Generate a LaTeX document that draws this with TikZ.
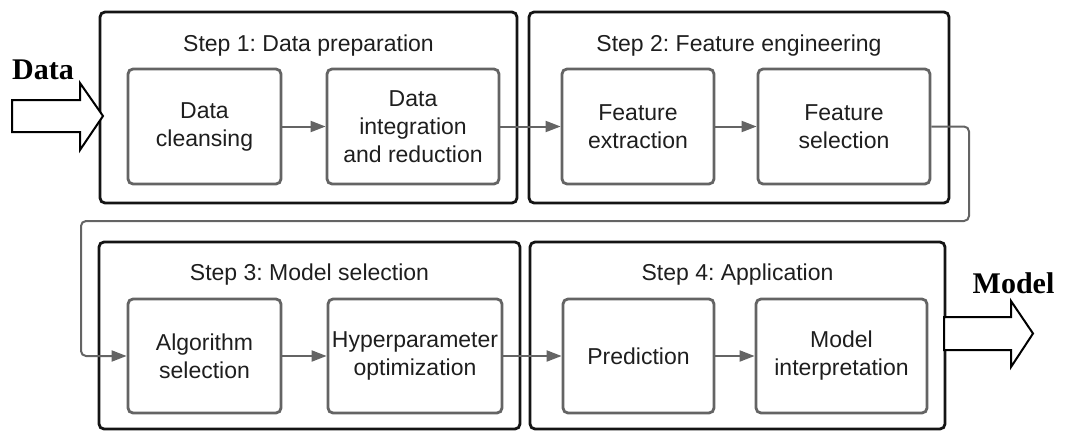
\documentclass[tikz,border=0pt]{standalone}
\usepackage{fontspec}
\setmainfont{Liberation Sans}
\newfontfamily\labelserif{Liberation Serif}
\usetikzlibrary{arrows.meta}
\frenchspacing

\definecolor{stageline}{RGB}{20,20,20}
\definecolor{taskline}{RGB}{100,100,100}
\definecolor{flowline}{RGB}{100,100,100}
\definecolor{ink}{RGB}{30,30,30}

\begin{document}
\begin{tikzpicture}[x=1pt,y=-1pt,
  stage/.style={draw=stageline, line width=2.8pt, rounded corners=5pt, inner sep=0pt},
  stagetitle/.style={anchor=base, font=\fontsize{23}{28}\selectfont, text=ink, inner sep=0pt},
  task/.style={draw=taskline, line width=2.8pt, rounded corners=5pt, inner sep=0pt,
    minimum height=115pt, align=center, font=\fontsize{23}{28}\selectfont, text=ink},
  flow/.style={draw=flowline, line width=2pt, -{Triangle[length=15pt,width=11pt]}},
  blockarrow/.style={draw=black, line width=2pt, fill=white, line join=miter},
  ioname/.style={font=\labelserif\bfseries\fontsize{30}{30}\selectfont, text=black, inner sep=0pt}
]
\useasboundingbox (0,0) rectangle (1070,431);

% stage frames
\node[stage, minimum width=417pt, minimum height=191pt] (s1) at (308.5,107.5) {};
\node[stage, minimum width=420pt, minimum height=191pt] (s2) at (739,107.5) {};
\node[stage, minimum width=421pt, minimum height=187pt] (s3) at (309.5,335.5) {};
\node[stage, minimum width=415pt, minimum height=187pt] (s4) at (737.5,335.5) {};

% stage titles
\node[stagetitle] (t1) at (308.5,51) {Step 1: Data preparation};
\node[stagetitle] (t2) at (739,51) {Step 2: Feature engineering};
\node[stagetitle] (t3) at (309.5,280) {Step 3: Model selection};
\node[stagetitle] (t4) at (737.5,280) {Step 4: Application};

% tasks
\node[task, minimum width=153pt] (clean) at (204.5,126.5) {Data\\cleansing};
\node[task, minimum width=172pt] (integ) at (413,126.5) {Data\\integration\\and reduction};
\node[task, minimum width=152pt] (extr) at (638,126.5) {Feature\\extraction};
\node[task, minimum width=172pt] (fsel) at (844,126.5) {Feature\\selection};
\node[task, minimum width=153pt, minimum height=114pt] (algo) at (204.5,356) {Algorithm\\selection};
\node[task, minimum width=174pt, minimum height=114pt] (hyper) at (415,356) {Hyperparameter\\optimization};
\node[task, minimum width=151pt, minimum height=114pt] (pred) at (638.5,356) {Prediction};
\node[task, minimum width=171pt, minimum height=114pt] (interp) at (841.5,356) {Model\\interpretation};

% flow between tasks
\draw[flow] (clean) -- (integ);
\draw[flow] (integ) -- (extr);
\draw[flow] (extr) -- (fsel);
\draw[flow, rounded corners=5pt] (fsel.east) -- (969,126.5) -- (969,221) -- (81,221) -- (81,356) -- (algo.west);
\draw[flow] (algo) -- (hyper);
\draw[flow] (hyper) -- (pred);
\draw[flow] (pred) -- (interp);

% input and output
\draw[blockarrow] (12,100) -- (80,100) -- (80,83) -- (103,116) -- (80,150) -- (80,132) -- (12,132) -- cycle;
\node[ioname] (din) at (43,70) {Data};
\draw[blockarrow] (944,317) -- (1011,317) -- (1011,301) -- (1033,333.5) -- (1011,367) -- (1011,350) -- (944,350) -- cycle;
\node[ioname] (mout) at (1013.5,283) {Model};
\end{tikzpicture}
\end{document}
